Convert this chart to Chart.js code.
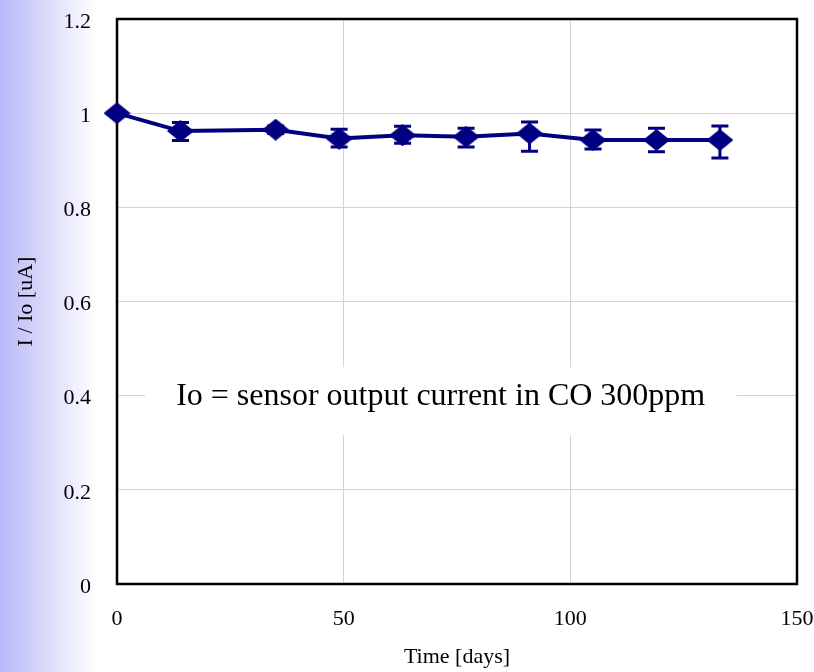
<!DOCTYPE html>
<html>
<head>
<meta charset="utf-8">
<script src="https://cdn.jsdelivr.net/npm/chart.js@4"></script>
<style>
  html, body { margin: 0; padding: 0; background: #fff; }
</style>
</head>
<body>
<canvas id="estabilidadChart" width="814" height="672"></canvas>
<script>
// --- DATOS DEL GRÁFICO ---
const dias = [0, 14, 35, 49, 63, 77, 91, 105, 119, 133];
const relacionCorriente = [1.0, 0.962, 0.965, 0.946, 0.953, 0.950, 0.957, 0.943, 0.943, 0.943];
const errorArriba = [0, 0.018, 0.008, 0.020, 0.019, 0.018, 0.024, 0.021, 0.025, 0.030];
const errorAbajo = [0, 0.020, 0.008, 0.018, 0.017, 0.022, 0.038, 0.019, 0.025, 0.038];
const ticksX = [0, 50, 100, 150];
const ticksY = [0, 0.2, 0.4, 0.6, 0.8, 1, 1.2];
const nota = 'Io = sensor output current in CO 300ppm';

const fuente = "'Liberation Serif', 'Times New Roman', serif";
const azul = '#000080';

// --- MARCADOR EN FORMA DE ROMBO (un poco más ancho que alto) ---
const rombo = document.createElement('canvas');
rombo.width = 27;
rombo.height = 22;
const rc = rombo.getContext('2d');
rc.fillStyle = azul;
rc.beginPath();
rc.moveTo(13.5, 0);
rc.lineTo(27, 11);
rc.lineTo(13.5, 22);
rc.lineTo(0, 11);
rc.closePath();
rc.fill();

// --- FONDO CON DEGRADADO A LA IZQUIERDA ---
const fondoPlugin = {
  id: 'fondo',
  beforeDraw(chart) {
    const ctx = chart.ctx;
    ctx.save();
    ctx.fillStyle = '#fff';
    ctx.fillRect(0, 0, chart.width, chart.height);
    const grad = ctx.createLinearGradient(0, 0, 96, 0);
    grad.addColorStop(0, '#b8b8f8');
    grad.addColorStop(1, '#ffffff');
    ctx.fillStyle = grad;
    ctx.fillRect(0, 0, 96, chart.height);
    ctx.restore();
  }
};

// --- NOTA, MARCO DEL ÁREA Y BARRAS DE ERROR ---
const extrasPlugin = {
  id: 'extras',
  beforeDatasetsDraw(chart) {
    const ctx = chart.ctx;
    const { x, y } = chart.scales;
    const area = chart.chartArea;
    ctx.save();

    // caja blanca con el texto (tapa la rejilla)
    ctx.font = '32px ' + fuente;
    const cx = x.getPixelForValue(71.4);
    const cy = y.getPixelForValue(0.397);
    const ancho = ctx.measureText(nota).width + 62;
    ctx.fillStyle = '#fff';
    ctx.fillRect(cx - ancho / 2, cy - 30, ancho, 68);
    ctx.fillStyle = '#000';
    ctx.textAlign = 'center';
    ctx.textBaseline = 'middle';
    ctx.fillText(nota, cx, cy);

    // marco negro del área de trazado
    ctx.strokeStyle = '#000';
    ctx.lineWidth = 2.5;
    ctx.strokeRect(area.left, area.top, area.right - area.left, area.bottom - area.top);
    ctx.restore();
  },
  afterDatasetsDraw(chart) {
    const ctx = chart.ctx;
    const { x, y } = chart.scales;
    ctx.save();
    ctx.strokeStyle = azul;
    ctx.lineWidth = 3;
    dias.forEach((d, i) => {
      if (!errorArriba[i] && !errorAbajo[i]) return;
      const px = x.getPixelForValue(d);
      const arriba = y.getPixelForValue(relacionCorriente[i] + errorArriba[i]);
      const abajo = y.getPixelForValue(relacionCorriente[i] - errorAbajo[i]);
      ctx.beginPath();
      ctx.moveTo(px, arriba);
      ctx.lineTo(px, abajo);
      ctx.moveTo(px - 8.5, arriba);
      ctx.lineTo(px + 8.5, arriba);
      ctx.moveTo(px - 8.5, abajo);
      ctx.lineTo(px + 8.5, abajo);
      ctx.stroke();
    });
    ctx.restore();
  }
};

const ctxGrafico = document.getElementById('estabilidadChart').getContext('2d');
new Chart(ctxGrafico, {
  type: 'line',
  data: {
    datasets: [{
      data: dias.map((d, i) => ({ x: d, y: relacionCorriente[i] })),
      borderColor: azul,
      backgroundColor: azul,
      borderWidth: 4,
      tension: 0,
      pointStyle: rombo,
      clip: false
    }]
  },
  options: {
    responsive: false,
    devicePixelRatio: 1,
    animation: false,
    layout: { padding: { top: 19, right: 17, left: 0, bottom: 0 } },
    plugins: {
      legend: { display: false },
      tooltip: { enabled: false }
    },
    scales: {
      x: {
        type: 'linear',
        min: 0,
        max: 150,
        afterBuildTicks: s => { s.ticks = ticksX.map(v => ({ value: v })); },
        afterFit: s => { s.height = 88; s.paddingLeft = 0; s.paddingRight = 0; },
        grid: { color: '#d4d4d4', lineWidth: 1, drawTicks: false },
        border: { display: false },
        ticks: { color: '#000', font: { family: fuente, size: 22 }, padding: 22, maxRotation: 0, autoSkip: false, callback: v => String(v) },
        title: { display: true, text: 'Time [days]', color: '#000', font: { family: fuente, size: 22 }, padding: { top: 0, bottom: 2 } }
      },
      y: {
        min: 0,
        max: 1.2,
        afterBuildTicks: s => { s.ticks = ticksY.map(v => ({ value: v })); },
        afterFit: s => { s.width = 117; s.paddingTop = 0; s.paddingBottom = 0; },
        grid: { color: '#d4d4d4', lineWidth: 1, drawTicks: false },
        border: { display: false },
        ticks: { color: '#000', font: { family: fuente, size: 22 }, padding: 26, labelOffset: 3, autoSkip: false, callback: v => String(v) },
        title: { display: true, text: 'I / Io [uA]', color: '#000', font: { family: fuente, size: 22 }, padding: { top: 13, bottom: 0 } }
      }
    }
  },
  plugins: [fondoPlugin, extrasPlugin]
});
</script>
</body>
</html>
